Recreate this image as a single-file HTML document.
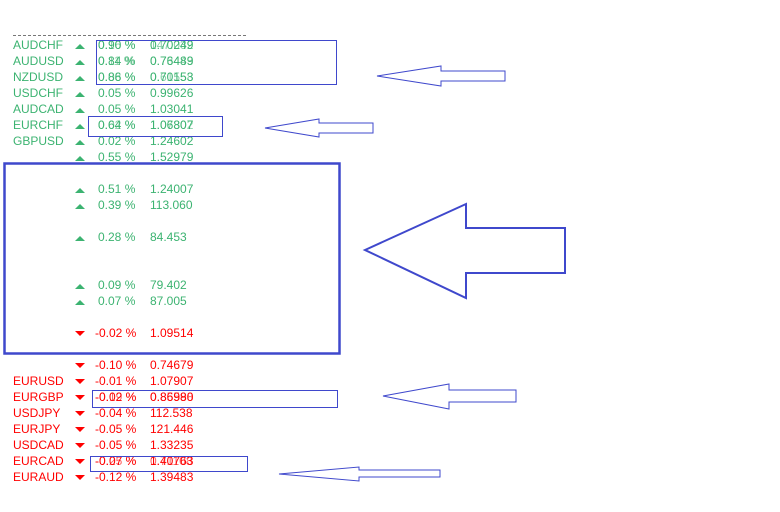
<!DOCTYPE html>
<html><head><meta charset="utf-8"><style>
html,body{margin:0;padding:0;background:#fff;}
svg{display:block;}
text{font-family:"Liberation Sans",sans-serif;font-size:12px;}
.g{fill:#3cb371;} .r{fill:#ff0000;}
</style></head><body>
<svg width="780" height="512" viewBox="0 0 780 512" xmlns="http://www.w3.org/2000/svg">
<line x1="13" y1="35.5" x2="247" y2="35.5" stroke="#777" stroke-dasharray="3,2" stroke-width="1"/>
<g id="rows">
<!-- green rows -->
<g class="g">
<text x="13" y="49">AUDCHF</text><text x="98" y="49">0.90 %</text><text x="150" y="49">0.70249</text><text x="98" y="49" opacity="0.6">0.16 %</text><text x="150" y="49" opacity="0.6">147.032</text>
<text x="13" y="65">AUDUSD</text><text x="98" y="65">0.84 %</text><text x="150" y="65">0.76489</text><text x="98" y="65" opacity="0.6">0.11 %</text><text x="150" y="65" opacity="0.6">0.73443</text>
<text x="13" y="81">NZDUSD</text><text x="98" y="81">0.86 %</text><text x="150" y="81">0.70153</text><text x="98" y="81" opacity="0.6">0.08 %</text><text x="150" y="81" opacity="0.6">0.61558</text>
<text x="13" y="97">USDCHF</text><text x="98" y="97">0.05 %</text><text x="150" y="97">0.99626</text>
<text x="13" y="113">AUDCAD</text><text x="98" y="113">0.05 %</text><text x="150" y="113">1.03041</text>
<text x="13" y="129">EURCHF</text><text x="98" y="129">0.64 %</text><text x="150" y="129">1.06807</text><text x="98" y="129" opacity="0.6">0.02 %</text><text x="150" y="129" opacity="0.6">1.07302</text>
<text x="13" y="145">GBPUSD</text><text x="98" y="145">0.02 %</text><text x="150" y="145">1.24602</text>
<text x="98" y="161">0.55 %</text><text x="150" y="161">1.52979</text>
<text x="98" y="193">0.51 %</text><text x="150" y="193">1.24007</text>
<text x="98" y="209">0.39 %</text><text x="150" y="209">113.060</text>
<text x="98" y="241">0.28 %</text><text x="150" y="241">84.453</text>
<text x="98" y="289">0.09 %</text><text x="150" y="289">79.402</text>
<text x="98" y="305">0.07 %</text><text x="150" y="305">87.005</text>
</g>
<g fill="#3cb371">
<path d="M75 49h10l-5-5z"/><path d="M75 65h10l-5-5z"/><path d="M75 81h10l-5-5z"/><path d="M75 97h10l-5-5z"/>
<path d="M75 113h10l-5-5z"/><path d="M75 129h10l-5-5z"/><path d="M75 145h10l-5-5z"/><path d="M75 161h10l-5-5z"/>
<path d="M75 193h10l-5-5z"/><path d="M75 209h10l-5-5z"/><path d="M75 241h10l-5-5z"/><path d="M75 289h10l-5-5z"/><path d="M75 305h10l-5-5z"/>
</g>
<g class="r">
<text x="95" y="337">-0.02 %</text><text x="150" y="337">1.09514</text>
<text x="95" y="369">-0.10 %</text><text x="150" y="369">0.74679</text>
<text x="13" y="385">EURUSD</text><text x="95" y="385">-0.01 %</text><text x="150" y="385">1.07907</text>
<text x="13" y="401">EURGBP</text><text x="95" y="401">-0.02 %</text><text x="150" y="401">0.86980</text><text x="95" y="401" opacity="0.6">-0.19 %</text><text x="150" y="401" opacity="0.6">0.85598</text>
<text x="13" y="417">USDJPY</text><text x="95" y="417">-0.04 %</text><text x="150" y="417">112.538</text>
<text x="13" y="433">EURJPY</text><text x="95" y="433">-0.05 %</text><text x="150" y="433">121.446</text>
<text x="13" y="449">USDCAD</text><text x="95" y="449">-0.05 %</text><text x="150" y="449">1.33235</text>
<text x="13" y="465">EURCAD</text><text x="95" y="465">-0.07 %</text><text x="150" y="465">1.40763</text><text x="95" y="465" opacity="0.6">-0.25 %</text><text x="150" y="465" opacity="0.6">0.71108</text>
<text x="13" y="481">EURAUD</text><text x="95" y="481">-0.12 %</text><text x="150" y="481">1.39483</text>
</g>
<g fill="#ff0000">
<path d="M75 331h10l-5 5z"/><path d="M75 363h10l-5 5z"/><path d="M75 379h10l-5 5z"/><path d="M75 395h10l-5 5z"/>
<path d="M75 411h10l-5 5z"/><path d="M75 427h10l-5 5z"/><path d="M75 443h10l-5 5z"/><path d="M75 459h10l-5 5z"/><path d="M75 475h10l-5 5z"/>
</g>
</g>
<g fill="none" stroke="#3f48cc">
<rect x="96.5" y="40.5" width="240" height="44" stroke-width="1"/>
<rect x="88.5" y="116.5" width="134" height="20" stroke-width="1"/>
<rect x="4.5" y="163.5" width="335" height="190" stroke-width="2.5"/>
<rect x="92.5" y="390.5" width="245" height="17" stroke-width="1"/>
<rect x="90.5" y="456.5" width="157" height="15" stroke-width="1"/>
<path d="M365 250L466 204V228H565V273H466V298Z" stroke-width="2"/>
<path d="M377 76L441 66V71H505V81H441V86Z" stroke-width="1"/>
<path d="M265 128L319 119V123H373V133H319V137Z" stroke-width="1"/>
<path d="M383 396L449 384V390H516V402H449V409Z" stroke-width="1"/>
<path d="M279 474L359 467V470H440V477H359V481Z" stroke-width="1"/>
</g>
</svg>
</body></html>
